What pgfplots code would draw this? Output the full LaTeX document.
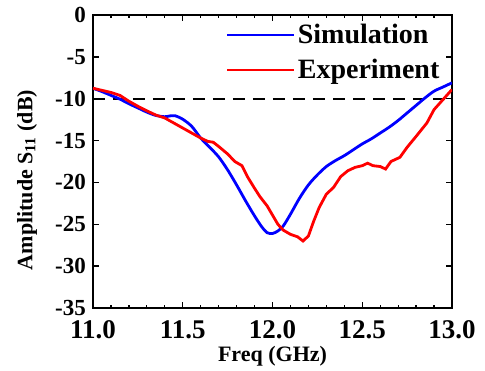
\documentclass[border=0pt]{standalone}
\usepackage{fontspec}
\setmainfont{Liberation Serif}
\usepackage{pgfplots}
\pgfplotsset{compat=1.18}
\begin{document}
\begin{tikzpicture}
\path (-93pt,-62pt) rectangle (392pt,308pt);
\begin{axis}[
  at={(0pt,0pt)}, anchor=south west,
  scale only axis, width=359pt, height=293pt,
  xmin=11, xmax=13, ymin=-35, ymax=0,
  xtick={11,11.5,12,12.5,13}, minor x tick num=4,
  ytick={-35,-30,-25,-20,-15,-10,-5,0},
  tick align=inside,
  major tick length=6pt, minor tick length=3.5pt,
  every tick/.style={black, line width=1.3pt},
  axis line style={line width=2pt},
  /pgf/number format/assume math mode=true,
  xticklabel style={font=\fontsize{27}{30}\selectfont\bfseries, inner sep=0pt, yshift=-12pt, /pgf/number format/.cd, fixed, fixed zerofill, precision=1},
  yticklabel style={font=\fontsize{23}{26}\selectfont\bfseries, inner sep=0pt, xshift=-7pt},
  xlabel={Freq (GHz)},
  ylabel={Amplitude S\textsubscript{11} (dB)},
  xlabel style={font=\fontsize{22}{26}\selectfont\bfseries, at={(axis description cs:0.5,-0.165)}, anchor=center},
  ylabel style={font=\fontsize{22}{26}\selectfont\bfseries, at={(axis description cs:-0.1838,0.437)}, anchor=center, rotate=0},
  legend style={draw=none, fill=none, font=\fontsize{28}{32}\selectfont\bfseries,
    at={(axis description cs:0.37,0.975)}, anchor=north west, inner sep=0pt, row sep=10pt},
  legend cell align=left,
  legend image code/.code={\draw[#1] (0pt,0pt) -- (67pt,0pt);},
]
\addplot[black, line width=1.6pt, dash pattern=on 12pt off 8pt, forget plot] coordinates {(11,-10) (13,-10)};
\addplot[blue, line width=2.8pt, smooth] coordinates {
(11.00,-8.75) (11.05,-9.15) (11.10,-9.6) (11.15,-10.05) (11.20,-10.6) (11.25,-11.1)
(11.30,-11.6) (11.35,-12.0) (11.40,-12.15) (11.43,-12.05) (11.46,-12.05) (11.50,-12.45)
(11.55,-13.3) (11.60,-14.7) (11.65,-15.8) (11.70,-16.95) (11.75,-18.5) (11.80,-20.3)
(11.85,-22.2) (11.90,-24.0) (11.94,-25.3) (11.97,-26.0) (12.00,-26.1) (12.03,-25.8)
(12.06,-25.2) (12.10,-23.8) (12.15,-21.9) (12.20,-20.3) (12.25,-19.1) (12.30,-18.1)
(12.35,-17.4) (12.40,-16.8) (12.45,-16.1) (12.50,-15.4) (12.55,-14.8) (12.60,-14.1)
(12.65,-13.4) (12.70,-12.6) (12.75,-11.7) (12.80,-10.8) (12.85,-9.9) (12.90,-9.1)
(12.95,-8.6) (13.00,-8.1)
};
\addlegendentry{Simulation}
\addplot[red, line width=2.8pt] coordinates {
(11.00,-8.75) (11.05,-9.0) (11.10,-9.25) (11.15,-9.6) (11.20,-10.3) (11.25,-10.9)
(11.30,-11.45) (11.35,-11.95) (11.40,-12.3) (11.45,-12.9) (11.50,-13.5) (11.55,-14.1)
(11.60,-14.7) (11.64,-15.1) (11.67,-15.2) (11.70,-15.7) (11.75,-16.6) (11.79,-17.5)
(11.83,-18.0) (11.86,-19.3) (11.90,-20.7) (11.93,-21.7) (11.97,-22.8) (12.00,-23.9)
(12.03,-25.0) (12.06,-25.7) (12.10,-26.2) (12.14,-26.5) (12.17,-27.0) (12.20,-26.4)
(12.23,-24.6) (12.26,-23.0) (12.30,-21.4) (12.34,-20.6) (12.38,-19.3) (12.42,-18.6)
(12.46,-18.2) (12.50,-18.0) (12.53,-17.7) (12.56,-18.0) (12.60,-18.1) (12.63,-18.4)
(12.66,-17.5) (12.71,-17.0) (12.75,-15.8) (12.80,-14.5) (12.86,-12.9) (12.90,-11.3)
(12.95,-10.1) (13.00,-8.9)
};
\addlegendentry{Experiment}
\end{axis}
\end{tikzpicture}
\end{document}
